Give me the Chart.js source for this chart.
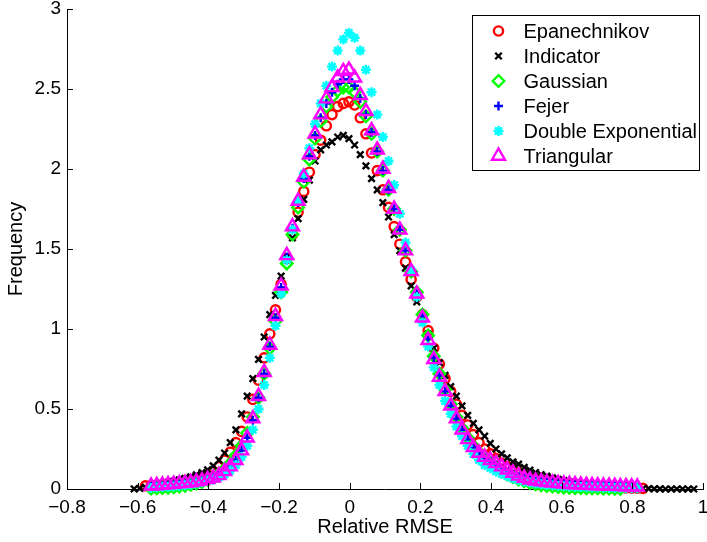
<!DOCTYPE html>
<html lang="en">
<head>
<meta charset="UTF-8">
<title>Relative RMSE</title>
<script src="https://cdn.jsdelivr.net/npm/chart.js"></script>
<style>
  html, body { margin: 0; padding: 0; background: #fff; }
  #wrap { width: 707px; height: 542px; }
</style>
</head>
<body>
<div id="wrap"><canvas id="kdeChart" width="707" height="542"></canvas></div>
<script>
// evaluation points (shared by all kernels)
const xGrid = [
  -0.610, -0.594, -0.578, -0.562, -0.546, -0.530, -0.514, -0.498, -0.482, -0.466,
  -0.450, -0.434, -0.418, -0.402, -0.386, -0.370, -0.354, -0.338, -0.322, -0.306,
  -0.290, -0.274, -0.258, -0.242, -0.226, -0.210, -0.194, -0.178, -0.162, -0.146,
  -0.130, -0.114, -0.098, -0.082, -0.066, -0.050, -0.034, -0.018, -0.002, 0.014,
  0.030, 0.046, 0.062, 0.078, 0.094, 0.110, 0.126, 0.142, 0.158, 0.174,
  0.190, 0.206, 0.222, 0.238, 0.254, 0.270, 0.286, 0.302, 0.318, 0.334,
  0.350, 0.366, 0.382, 0.398, 0.414, 0.430, 0.446, 0.462, 0.478, 0.494,
  0.510, 0.526, 0.542, 0.558, 0.574, 0.590, 0.606, 0.622, 0.638, 0.654,
  0.670, 0.686, 0.702, 0.718, 0.734, 0.750, 0.766, 0.782, 0.798, 0.814,
  0.830, 0.846, 0.862, 0.878, 0.894, 0.910, 0.926, 0.942, 0.958, 0.974
];

const epanechnikov = [
  null, null, 0.020, 0.022, 0.025, 0.028, 0.032, 0.036, 0.041, 0.047,
  0.054, 0.063, 0.075, 0.090, 0.11, 0.14, 0.18, 0.23, 0.29, 0.36,
  0.45, 0.56, 0.68, 0.82, 0.97, 1.12, 1.28, 1.44, 1.59, 1.73,
  1.86, 1.98, 2.09, 2.18, 2.27, 2.34, 2.39, 2.41, 2.42, 2.40,
  2.32, 2.22, 2.10, 1.99, 1.87, 1.76, 1.64, 1.53, 1.42, 1.31,
  1.20, 1.09, 0.99, 0.88, 0.78, 0.69, 0.61, 0.53, 0.46, 0.40,
  0.34, 0.29, 0.25, 0.22, 0.19, 0.16, 0.14, 0.12, 0.10, 0.085,
  0.072, 0.062, 0.054, 0.047, 0.041, 0.036, 0.032, 0.028, 0.025, 0.022,
  0.020, 0.018, 0.016, 0.014, 0.012, 0.010, 0.009, 0.007, 0.006, 0.005,
  0.004, null, null, null, null, null, null, null, null, null
];

const indicator = [
  0.001, 0.004, 0.010, 0.018, 0.025, 0.032, 0.040, 0.048, 0.057, 0.066,
  0.076, 0.088, 0.102, 0.120, 0.145, 0.180, 0.225, 0.290, 0.370, 0.470,
  0.58, 0.69, 0.81, 0.95, 1.09, 1.21, 1.33, 1.45, 1.57, 1.69,
  1.81, 1.93, 2.05, 2.12, 2.15, 2.17, 2.20, 2.21, 2.19, 2.15,
  2.09, 2.02, 1.94, 1.87, 1.79, 1.70, 1.59, 1.49, 1.38, 1.27,
  1.17, 1.07, 0.97, 0.88, 0.79, 0.71, 0.64, 0.58, 0.52, 0.46,
  0.41, 0.37, 0.33, 0.285, 0.25, 0.22, 0.195, 0.17, 0.155, 0.135,
  0.118, 0.103, 0.090, 0.080, 0.070, 0.060, 0.052, 0.045, 0.039, 0.034,
  0.029, 0.025, 0.021, 0.018, 0.016, 0.014, 0.011, 0.009, 0.007, 0.005,
  0.003, 0.002, 0.001, 0.001, 0, 0, 0, 0, 0, 0
];

const gaussian = [
  null, null, null, 0.003, 0.004, 0.006, 0.008, 0.011, 0.015, 0.020,
  0.026, 0.034, 0.044, 0.057, 0.074, 0.096, 0.125, 0.16, 0.21, 0.27,
  0.35, 0.45, 0.57, 0.72, 0.88, 1.05, 1.23, 1.41, 1.59, 1.76,
  1.92, 2.06, 2.19, 2.30, 2.39, 2.45, 2.49, 2.51, 2.51, 2.48,
  2.42, 2.33, 2.22, 2.11, 1.99, 1.87, 1.75, 1.62, 1.49, 1.36,
  1.23, 1.09, 0.96, 0.83, 0.72, 0.62, 0.53, 0.45, 0.38, 0.32,
  0.27, 0.23, 0.19, 0.16, 0.135, 0.11, 0.09, 0.075, 0.06, 0.048,
  0.038, 0.030, 0.024, 0.019, 0.015, 0.012, 0.010, 0.008, 0.007, 0.006,
  0.005, 0.004, 0.004, 0.003, 0.003, 0.002, 0.002, null, null, null,
  null, null, null, null, null, null, null, null, null, null
];

const fejer = [
  null, null, null, 0.015, 0.017, 0.019, 0.022, 0.025, 0.028, 0.032,
  0.036, 0.041, 0.048, 0.057, 0.068, 0.084, 0.11, 0.14, 0.18, 0.24,
  0.32, 0.43, 0.57, 0.72, 0.89, 1.07, 1.26, 1.45, 1.63, 1.79,
  1.94, 2.08, 2.21, 2.32, 2.41, 2.48, 2.53, 2.56, 2.56, 2.52,
  2.44, 2.34, 2.23, 2.11, 1.99, 1.87, 1.75, 1.62, 1.49, 1.36,
  1.22, 1.08, 0.94, 0.82, 0.71, 0.61, 0.52, 0.44, 0.37, 0.31,
  0.26, 0.22, 0.19, 0.17, 0.15, 0.13, 0.11, 0.092, 0.077, 0.065,
  0.056, 0.049, 0.043, 0.039, 0.035, 0.032, 0.029, 0.027, 0.025, 0.023,
  0.021, 0.020, 0.018, 0.017, 0.016, 0.015, 0.014, 0.013, 0.012, 0.011,
  null, null, null, null, null, null, null, null, null, null
];

const doubleExponential = [
  null, null, null, 0.007, 0.009, 0.011, 0.013, 0.016, 0.019, 0.023,
  0.028, 0.034, 0.042, 0.052, 0.060, 0.072, 0.090, 0.115, 0.15, 0.20,
  0.27, 0.37, 0.50, 0.65, 0.82, 1.02, 1.22, 1.43, 1.62, 1.80,
  1.97, 2.13, 2.28, 2.41, 2.52, 2.64, 2.74, 2.81, 2.85, 2.82,
  2.74, 2.62, 2.48, 2.34, 2.20, 2.05, 1.90, 1.72, 1.54, 1.37,
  1.20, 1.04, 0.89, 0.76, 0.65, 0.55, 0.47, 0.39, 0.33, 0.27,
  0.22, 0.18, 0.15, 0.13, 0.11, 0.095, 0.080, 0.067, 0.056, 0.047,
  0.040, 0.034, 0.029, 0.025, 0.022, 0.019, 0.017, 0.015, 0.013, 0.012,
  0.011, 0.010, 0.009, 0.008, 0.007, 0.006, 0.006, 0.005, 0.005, 0.004,
  null, null, null, null, null, null, null, null, null, null
];

const triangular = [
  null, null, null, 0.020, 0.022, 0.025, 0.028, 0.031, 0.034, 0.037,
  0.041, 0.046, 0.052, 0.060, 0.070, 0.085, 0.11, 0.14, 0.18, 0.24,
  0.32, 0.44, 0.58, 0.73, 0.90, 1.08, 1.27, 1.46, 1.64, 1.80,
  1.95, 2.09, 2.22, 2.34, 2.44, 2.51, 2.57, 2.61, 2.62, 2.57,
  2.46, 2.36, 2.24, 2.12, 2.00, 1.88, 1.75, 1.62, 1.49, 1.36,
  1.22, 1.07, 0.93, 0.81, 0.70, 0.61, 0.52, 0.44, 0.37, 0.31,
  0.26, 0.225, 0.20, 0.18, 0.16, 0.14, 0.12, 0.10, 0.082, 0.068,
  0.058, 0.051, 0.046, 0.042, 0.038, 0.035, 0.032, 0.030, 0.028, 0.026,
  0.024, 0.023, 0.021, 0.020, 0.019, 0.018, 0.017, 0.016, 0.015, 0.014,
  null, null, null, null, null, null, null, null, null, null
];

const seriesNames = ['Epanechnikov', 'Indicator', 'Gaussian', 'Fejer', 'Double Exponential', 'Triangular'];
const seriesValues = [epanechnikov, indicator, gaussian, fejer, doubleExponential, triangular];

const xTicks = [-0.8, -0.6, -0.4, -0.2, 0, 0.2, 0.4, 0.6, 0.8, 1];
const yTicks = [0, 0.5, 1, 1.5, 2, 2.5, 3];

// matlab-like marker styles, same order as seriesNames
const markers = [
  { pointStyle: 'circle', color: '#ff0000', radius: 4.6 },
  { pointStyle: 'crossRot', color: '#000000', radius: 4.6 },
  { pointStyle: 'rectRot', color: '#00ff00', radius: 5.8 },
  { pointStyle: 'cross', color: '#0000ff', radius: 4.5 },
  { pointStyle: 'star', color: '#00ffff', radius: 5 },
  { pointStyle: 'triangle', color: '#ff00ff', radius: 7.5 }
];

const FONT = '"Liberation Sans", Arial, Helvetica, sans-serif';
Chart.defaults.font.family = FONT;
Chart.defaults.color = '#000';

const datasets = seriesNames.map((name, i) => ({
  label: name,
  data: xGrid.map((x, k) => ({ x: x, y: seriesValues[i][k] })).filter(p => p.y !== null),
  showLine: false,
  pointStyle: markers[i].pointStyle,
  pointRadius: markers[i].radius,
  pointHoverRadius: markers[i].radius,
  pointBorderWidth: 2.4,
  borderColor: markers[i].color,
  backgroundColor: 'rgba(0,0,0,0)',
  order: seriesNames.length - i, // later series drawn on top
  clip: false
}));

// inward tick marks + boxed legend like the matlab figure
const matlabLook = {
  id: 'matlabLook',
  afterDraw(chart) {
    const { ctx, chartArea: a, scales: { x, y } } = chart;
    ctx.save();
    ctx.strokeStyle = '#000';
    ctx.lineWidth = 1;
    ctx.beginPath();
    x.ticks.forEach(t => {
      const px = Math.round(x.getPixelForValue(t.value)) + 0.5;
      ctx.moveTo(px, a.bottom);
      ctx.lineTo(px, a.bottom - 6);
    });
    y.ticks.forEach(t => {
      const py = Math.round(y.getPixelForValue(t.value)) + 0.5;
      ctx.moveTo(a.left, py);
      ctx.lineTo(a.left + 6, py);
    });
    ctx.stroke();

    const boxW = 227, boxH = 155;
    const bx = Math.round(a.right - 4 - boxW) + 0.5;
    const by = Math.round(a.top + 6) + 0.5;
    ctx.fillStyle = '#fff';
    ctx.fillRect(bx, by, boxW, boxH);
    ctx.strokeRect(bx, by, boxW, boxH);

    ctx.font = '20px ' + FONT;
    ctx.textBaseline = 'middle';
    ctx.textAlign = 'left';
    seriesNames.forEach((name, i) => {
      const rowY = by + 15.5 + i * 25;
      ctx.strokeStyle = markers[i].color;
      ctx.fillStyle = 'rgba(0,0,0,0)';
      ctx.lineWidth = 2.4;
      Chart.helpers.drawPoint(ctx, {
        pointStyle: markers[i].pointStyle,
        radius: markers[i].radius,
        rotation: 0,
        borderWidth: 2.4
      }, bx + 26, rowY);
      ctx.fillStyle = '#000';
      ctx.fillText(name, bx + 51, rowY + 1);
    });
    ctx.restore();
  }
};

new Chart(document.getElementById('kdeChart'), {
  type: 'scatter',
  data: { datasets: datasets },
  options: {
    responsive: false,
    animation: false,
    layout: { autoPadding: false, padding: { left: 0, top: 9, right: 4, bottom: 0 } },
    plugins: {
      legend: { display: false },
      tooltip: { enabled: false }
    },
    scales: {
      x: {
        type: 'linear',
        min: -0.8,
        max: 1,
        grid: { display: false, drawTicks: false },
        border: { display: true, color: '#000', width: 1 },
        afterBuildTicks: scale => { scale.ticks = xTicks.map(v => ({ value: v })); },
        afterFit: scale => {
          scale.height = 53;
          scale.paddingLeft = 0;
          scale.paddingRight = 0;
        },
        ticks: {
          autoSkip: false,
          maxRotation: 0,
          padding: 7,
          color: '#000',
          font: { size: 19 },
          callback: v => (v === 0 ? '0' : String(v).replace('-', '\u2212'))
        },
        title: {
          display: true,
          text: 'Relative RMSE',
          color: '#000',
          font: { size: 20 },
          padding: { top: 0, bottom: 3 }
        }
      },
      y: {
        type: 'linear',
        min: 0,
        max: 3,
        grid: { display: false, drawTicks: false },
        border: { display: true, color: '#000', width: 1 },
        afterBuildTicks: scale => { scale.ticks = yTicks.map(v => ({ value: v })); },
        afterFit: scale => {
          scale.width = 67;
          scale.paddingTop = 0;
          scale.paddingBottom = 0;
        },
        ticks: {
          padding: 6,
          color: '#000',
          font: { size: 19 },
          callback: v => String(v)
        },
        title: {
          display: true,
          text: 'Frequency',
          color: '#000',
          font: { size: 20 },
          padding: { top: 4, bottom: 0 }
        }
      }
    }
  },
  plugins: [matlabLook]
});
</script>
</body>
</html>
